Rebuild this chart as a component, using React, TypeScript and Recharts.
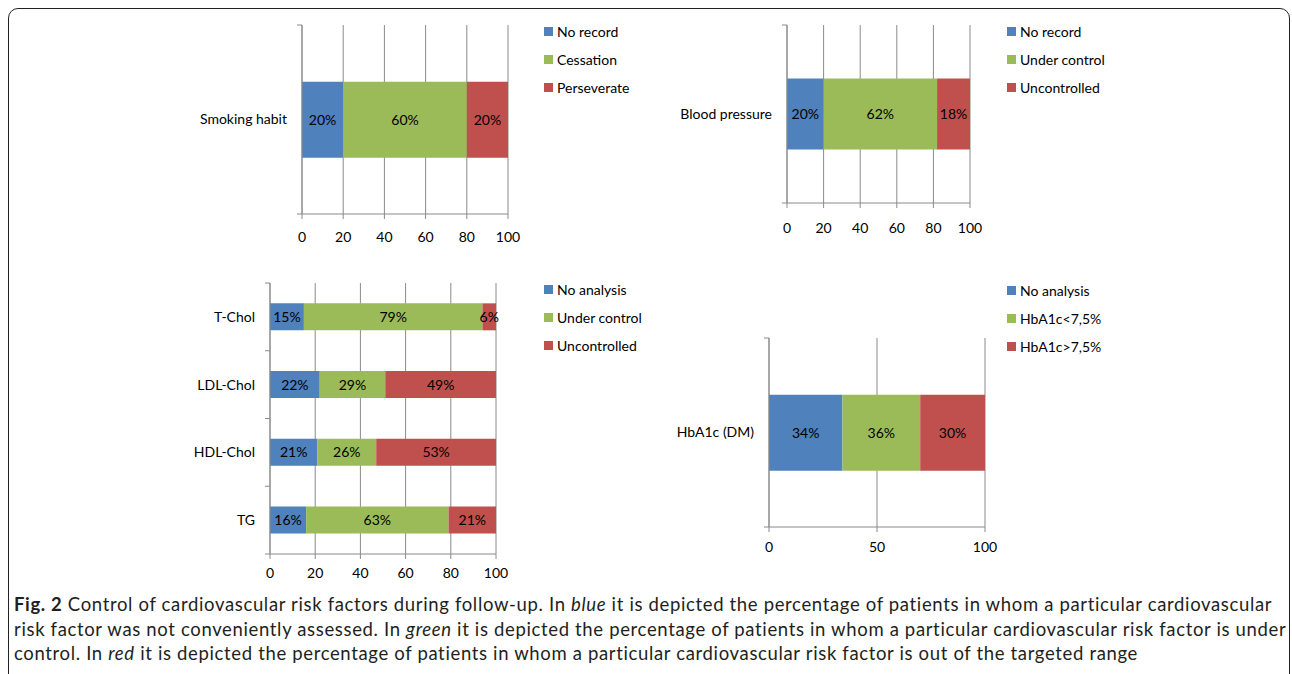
import React from 'react';
import { BarChart, Bar, XAxis, YAxis, CartesianGrid, Legend, LabelList } from 'recharts';

const BLUE = '#4f81bd';
const GREEN = '#9bbb59';
const RED = '#c0504d';
const GRID = '#8a8a8a';
const FONT = 'Lato, "Open Sans", sans-serif';

// smoking habit
const smokingCategories = ['Smoking habit'];
const smokingNoRecord = [20];
const smokingCessation = [60];
const smokingPerseverate = [20];

// blood pressure
const bpCategories = ['Blood pressure'];
const bpNoRecord = [20];
const bpUnderControl = [62];
const bpUncontrolled = [18];

// lipids
const lipidCategories = ['T-Chol', 'LDL-Chol', 'HDL-Chol', 'TG'];
const lipidNoAnalysis = [15, 22, 21, 16];
const lipidUnderControl = [79, 29, 26, 63];
const lipidUncontrolled = [6, 49, 53, 21];

// HbA1c
const hbCategories = ['HbA1c (DM)'];
const hbNoAnalysis = [34];
const hbBelow = [36];
const hbAbove = [30];

const ticksBy20 = [0, 20, 40, 60, 80, 100];
const ticksBy50 = [0, 50, 100];

type Series = { name: string; values: number[]; color: string };
type Box = { x: number; y: number; w: number; h: number };
type Plot = { l: number; t: number; r: number; b: number };

interface PanelProps {
  box: Box;
  plot: Plot;
  categories: string[];
  series: Series[];
  ticks: number[];
  tickGap: number;
  legendAt: { x: number; y: number };
}

const Panel = ({ box, plot, categories, series, ticks, tickGap, legendAt }: PanelProps) => {
  const data = categories.map((c, i) => {
    const row: any = { name: c };
    series.forEach((s, k) => {
      row['s' + k] = s.values[i];
    });
    return row;
  });
  const xAxisHeight = 30;
  const band = (plot.b - plot.t) / categories.length;

  // category label plus the Excel-style tick marks between categories
  const catTick = (p: any) => {
    const axisX = p.x + 15;
    const last = p.index === categories.length - 1;
    return (
      <g>
        <line x1={axisX - 5} x2={axisX} y1={p.y - band / 2} y2={p.y - band / 2} stroke={GRID} />
        {last && <line x1={axisX - 5} x2={axisX} y1={p.y + band / 2} y2={p.y + band / 2} stroke={GRID} />}
        <text x={p.x} y={p.y} dy="0.35em" textAnchor="end" fontSize={14} fill="#000" fontFamily={FONT}>
          {p.payload.value}
        </text>
      </g>
    );
  };

  return (
    <div style={{ position: 'absolute', left: box.x, top: box.y }}>
      <BarChart
        width={box.w}
        height={box.h}
        data={data}
        layout="vertical"
        barCategoryGap="30%"
        margin={{
          top: plot.t - box.y,
          right: box.x + box.w - plot.r,
          bottom: box.y + box.h - plot.b - xAxisHeight,
          left: 0,
        }}
      >
        <CartesianGrid horizontal={false} stroke={GRID} />
        <XAxis
          type="number"
          domain={[0, 100]}
          ticks={ticks}
          interval={0}
          tickSize={5}
          tickMargin={tickGap}
          height={xAxisHeight}
          stroke={GRID}
          tick={{ fill: '#000', fontSize: 14, fontFamily: FONT }}
        />
        <YAxis
          type="category"
          dataKey="name"
          width={plot.l - box.x}
          interval={0}
          tickLine={false}
          tickSize={5}
          tickMargin={10}
          stroke={GRID}
          tick={catTick}
        />
        <Legend
          layout="vertical"
          align="center"
          verticalAlign="middle"
          wrapperStyle={{ left: legendAt.x - box.x, top: legendAt.y - box.y, width: 'auto' }}
          content={() => (
            <div style={{ fontFamily: FONT, fontSize: 14, color: '#000' }}>
              {series.map((s) => (
                <div key={s.name} style={{ display: 'flex', alignItems: 'center', height: 28, whiteSpace: 'nowrap' }}>
                  <span style={{ width: 9, height: 9, background: s.color, marginRight: 4, display: 'inline-block' }} />
                  {s.name}
                </div>
              ))}
            </div>
          )}
        />
        {series.map((s, k) => (
          <Bar key={s.name} dataKey={'s' + k} name={s.name} stackId="a" fill={s.color} isAnimationActive={false}>
            <LabelList
              dataKey={'s' + k}
              position="center"
              formatter={(v: any) => v + '%'}
              fill="#000"
              fontSize={14}
              fontFamily={FONT}
            />
          </Bar>
        ))}
      </BarChart>
    </div>
  );
};

const App = () => {
  return (
    <div
      style={{
        position: 'absolute',
        left: 0,
        top: 0,
        width: 1292,
        height: 674,
        overflow: 'hidden',
        background: '#fff',
      }}
    >
      <div
        style={{
          position: 'absolute',
          left: 8,
          top: 8,
          width: 1282,
          height: 720,
          border: '1.5px solid #222',
          borderRadius: 10,
          boxSizing: 'border-box',
        }}
      />
      <Panel
        box={{ x: 180, y: 10, w: 480, h: 240 }}
        plot={{ l: 302, t: 25, r: 508, b: 214 }}
        categories={smokingCategories}
        series={[
          { name: 'No record', values: smokingNoRecord, color: BLUE },
          { name: 'Cessation', values: smokingCessation, color: GREEN },
          { name: 'Perseverate', values: smokingPerseverate, color: RED },
        ]}
        ticks={ticksBy20}
        tickGap={13}
        legendAt={{ x: 544, y: 17 }}
      />
      <Panel
        box={{ x: 660, y: 10, w: 480, h: 240 }}
        plot={{ l: 787, t: 25, r: 970, b: 203 }}
        categories={bpCategories}
        series={[
          { name: 'No record', values: bpNoRecord, color: BLUE },
          { name: 'Under control', values: bpUnderControl, color: GREEN },
          { name: 'Uncontrolled', values: bpUncontrolled, color: RED },
        ]}
        ticks={ticksBy20}
        tickGap={15}
        legendAt={{ x: 1007, y: 17 }}
      />
      <Panel
        box={{ x: 180, y: 270, w: 480, h: 320 }}
        plot={{ l: 270, t: 283, r: 496, b: 554 }}
        categories={lipidCategories}
        series={[
          { name: 'No analysis', values: lipidNoAnalysis, color: BLUE },
          { name: 'Under control', values: lipidUnderControl, color: GREEN },
          { name: 'Uncontrolled', values: lipidUncontrolled, color: RED },
        ]}
        ticks={ticksBy20}
        tickGap={9}
        legendAt={{ x: 544, y: 275 }}
      />
      <Panel
        box={{ x: 660, y: 270, w: 480, h: 300 }}
        plot={{ l: 769, t: 338, r: 985, b: 527 }}
        categories={hbCategories}
        series={[
          { name: 'No analysis', values: hbNoAnalysis, color: BLUE },
          { name: 'HbA1c<7,5%', values: hbBelow, color: GREEN },
          { name: 'HbA1c>7,5%', values: hbAbove, color: RED },
        ]}
        ticks={ticksBy50}
        tickGap={10}
        legendAt={{ x: 1007, y: 276 }}
      />
      <div
        style={{
          position: 'absolute',
          left: 14,
          top: 592,
          fontFamily: FONT,
          fontSize: 18.5,
          letterSpacing: 0.65,
          lineHeight: '24.5px',
          color: '#231f20',
          whiteSpace: 'nowrap',
        }}
      >
        <b>Fig. 2</b> Control of cardiovascular risk factors during follow-up. In <i>blue</i> it is depicted the
        percentage of patients in whom a particular cardiovascular
        <br />
        risk factor was not conveniently assessed. In <i>green</i> it is depicted the percentage of patients in whom a
        particular cardiovascular risk factor is under
        <br />
        control. In <i>red</i> it is depicted the percentage of patients in whom a particular cardiovascular risk factor
        is out of the targeted range
      </div>
    </div>
  );
};

export default App;
